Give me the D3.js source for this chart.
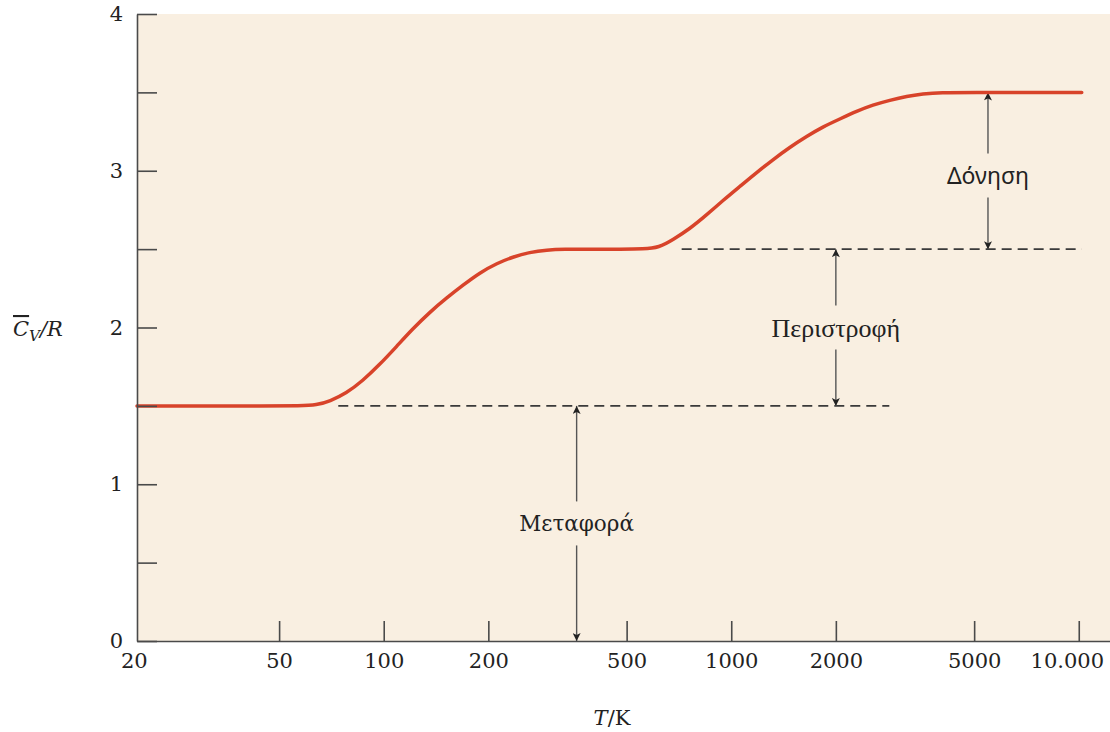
<!DOCTYPE html>
<html>
<head>
<meta charset="utf-8">
<script src="https://cdn.jsdelivr.net/npm/d3@7"></script>
<style>
  body { margin: 0; background: #fff; }
  svg { display: block; }
  .axis path, .axis line { stroke: #4a4a4a; stroke-width: 1.6; }
  .axis text { font-family: "DejaVu Serif", serif; font-size: 21px; fill: #222; }
</style>
</head>
<body>
<svg id="chart" width="1110" height="732"></svg>
<script>
// heat capacity curve (T in K, Cv/R)
const temps = [19.5, 30, 45, 58, 64, 70, 78, 87, 97, 109, 121, 136, 152, 169, 189, 212, 235, 263, 295, 328,
  400, 480, 560, 620, 679, 760, 851, 946, 1059, 1185, 1317, 1474, 1650, 1834, 2053, 2298, 2555, 2860, 3200, 3560, 3980,
  5000, 7000, 10200];
const cvValues = [1.5, 1.5, 1.5, 1.5, 1.505, 1.53, 1.58, 1.66, 1.76, 1.88, 1.99, 2.1, 2.19, 2.27, 2.35, 2.41, 2.45, 2.48, 2.495, 2.5,
  2.5, 2.5, 2.5, 2.51, 2.56, 2.63, 2.72, 2.81, 2.90, 2.99, 3.07, 3.15, 3.22, 3.28, 3.33, 3.38, 3.42, 3.45, 3.475, 3.49, 3.5,
  3.5, 3.5, 3.5];

const xTicks = [20, 50, 100, 200, 500, 1000, 2000, 5000, 10000];
const xTickLabels = ['20', '50', '100', '200', '500', '1000', '2000', '5000', '10.000'];
const yTicks = [0, 0.5, 1, 1.5, 2, 2.5, 3, 3.5, 4];

// reference levels (dashed): level, from T, to T
const levels = [1.5, 2.5];
const levelStart = [74, 720];
const levelEnd = [2850, 10200];

// annotations: label, T position, lower / upper level, label level
const arrowLabels = ['Μεταφορά', 'Περιστροφή', 'Δόνηση'];
const arrowT = [359, 2000, 5480];
const arrowLow = [0, 1.5, 2.5];
const arrowHigh = [1.5, 2.5, 3.5];
const arrowMid = [0.75, 2.0, 2.97];
const arrowFonts = ['"DejaVu Serif", serif', '"Liberation Serif", serif', '"Noto Sans", sans-serif'];
const arrowFontSize = [21.5, 26, 23];

const margin = { top: 14, left: 137, right: 0, bottom: 91 };
const width = 1110, height = 732;

const svg = d3.select('#chart');

const x = d3.scaleLog()
  .domain([19.5, 12300])
  .range([margin.left, width - margin.right]);
const y = d3.scaleLinear()
  .domain([0, 4])
  .range([height - margin.bottom, margin.top]);

// plot background
svg.append('rect')
  .attr('x', margin.left)
  .attr('y', margin.top)
  .attr('width', width - margin.right - margin.left)
  .attr('height', height - margin.bottom - margin.top)
  .attr('fill', '#f9efe1');

// dashed reference lines
svg.append('g')
  .selectAll('line')
  .data(levels)
  .join('line')
  .attr('x1', (d, i) => x(levelStart[i]))
  .attr('x2', (d, i) => x(levelEnd[i]))
  .attr('y1', d => y(d))
  .attr('y2', d => y(d))
  .attr('stroke', '#3a3a3a')
  .attr('stroke-width', 1.6)
  .attr('stroke-dasharray', '10,6');

// arrowhead marker
svg.append('defs')
  .append('marker')
  .attr('id', 'head')
  .attr('viewBox', '0 0 10 10')
  .attr('refX', 10)
  .attr('refY', 5)
  .attr('markerWidth', 10)
  .attr('markerHeight', 8)
  .attr('markerUnits', 'userSpaceOnUse')
  .attr('orient', 'auto')
  .append('path')
  .attr('d', 'M0,0 L10,5 L0,10 L2.5,5 Z')
  .attr('fill', '#222');

const gap = 22;
const ann = svg.append('g');
arrowLabels.forEach((label, i) => {
  const ax = x(arrowT[i]);
  const ym = y(arrowMid[i]);
  // upper segment
  ann.append('line')
    .attr('x1', ax).attr('x2', ax)
    .attr('y1', ym - gap).attr('y2', y(arrowHigh[i]))
    .attr('stroke', '#555').attr('stroke-width', 1.4)
    .attr('marker-end', 'url(#head)');
  // lower segment
  ann.append('line')
    .attr('x1', ax).attr('x2', ax)
    .attr('y1', ym + gap).attr('y2', y(arrowLow[i]))
    .attr('stroke', '#555').attr('stroke-width', 1.4)
    .attr('marker-end', 'url(#head)');
  ann.append('text')
    .attr('x', ax)
    .attr('y', ym)
    .attr('dy', '0.35em')
    .attr('text-anchor', 'middle')
    .attr('font-family', arrowFonts[i])
    .attr('font-size', arrowFontSize[i])
    .attr('fill', '#222')
    .text(label);
});

// heat capacity curve (smoothed through the read-off points)
const line = d3.line()
  .x((d, i) => x(temps[i]))
  .y(d => y(d))
  .curve(d3.curveBasis);

svg.append('path')
  .attr('d', line(cvValues))
  .attr('fill', 'none')
  .attr('stroke', '#d8432a')
  .attr('stroke-width', 3.5)
  .attr('stroke-linecap', 'round');

// axes
const xAxis = d3.axisBottom(x)
  .tickValues(xTicks)
  .tickFormat((d, i) => xTickLabels[i])
  .tickSize(-20)
  .tickSizeOuter(0)
  .tickPadding(12);

const gx = svg.append('g')
  .attr('class', 'axis')
  .attr('transform', `translate(0, ${height - margin.bottom})`)
  .call(xAxis);
gx.selectAll('.tick').filter(d => d === 20).select('line').remove();
gx.selectAll('.tick').filter(d => d === 20).select('text').attr('dx', -7);
gx.selectAll('.tick').filter(d => d === 10000).select('text').attr('dx', -12);

const yAxis = d3.axisLeft(y)
  .tickValues(yTicks)
  .tickFormat(d => (Number.isInteger(d) ? d : ''))
  .tickSize(-20)
  .tickSizeOuter(0)
  .tickPadding(14);

svg.append('g')
  .attr('class', 'axis')
  .attr('transform', `translate(${margin.left}, 0)`)
  .call(yAxis);

// axis titles
const xTitle = svg.append('text')
  .attr('x', 612)
  .attr('y', 725)
  .attr('text-anchor', 'middle')
  .attr('font-family', '"DejaVu Serif", serif')
  .attr('font-size', 21)
  .attr('fill', '#222');
xTitle.append('tspan').attr('font-style', 'italic').text('T');
xTitle.append('tspan').text('/K');

const yTitle = svg.append('text')
  .attr('x', 13)
  .attr('y', 336)
  .attr('font-family', '"DejaVu Serif", serif')
  .attr('font-style', 'italic')
  .attr('font-size', 21)
  .attr('fill', '#222');
yTitle.append('tspan')
  .style('text-decoration', 'overline')
  .text('C');
yTitle.append('tspan')
  .attr('font-size', 15)
  .attr('dy', 5)
  .text('V');
yTitle.append('tspan')
  .attr('dy', -5)
  .text('/R');
</script>
</body>
</html>
